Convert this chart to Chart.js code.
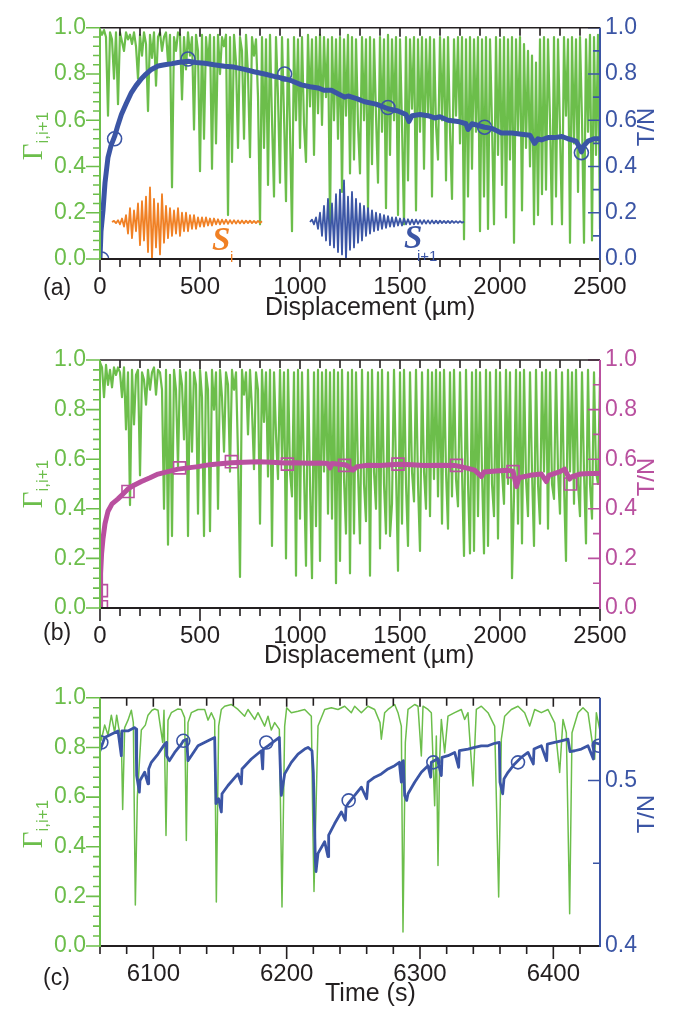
<!DOCTYPE html>
<html lang="en">
<head>
<meta charset="UTF-8">
<title>Γ(i,i+1) and T/N traces</title>
<script src="https://cdn.jsdelivr.net/npm/chart.js"></script>
<style>
  body { margin: 0; background: #fff; }
  #page { position: relative; width: 679px; height: 1010px; overflow: hidden; font-family: 'Liberation Sans', Arial, sans-serif; color: #231f20; }
  canvas { position: absolute; left: 0; }
  .lbl { position: absolute; line-height: 1; white-space: nowrap; }
  .rot { position: absolute; line-height: 1; white-space: nowrap; transform: translate(-50%, -50%) rotate(-90deg); }
  .gam { color: #6cbe4b; }
  .gam .g { font: 29px 'Liberation Serif', serif; }
  .gam sub { font: 17px 'Liberation Sans', sans-serif; vertical-align: -6px; }
</style>
</head>
<body>
<div id="page">
  <canvas id="chartA" width="679" height="330" style="top:0"></canvas>
  <canvas id="chartB" width="679" height="340" style="top:330px"></canvas>
  <canvas id="chartC" width="679" height="340" style="top:670px"></canvas>

  <div class="lbl" style="left:43px;top:276px;font-size:23px">(a)</div>
  <div class="lbl" style="left:265px;top:294px;font-size:25px">Displacement (µm)</div>
  <div class="rot gam" style="left:34px;top:136px"><span class="g">Γ</span><sub>i,i+1</sub></div>
  <div class="rot" style="left:646px;top:127px;font-size:24px;color:#3b55a5">T/N</div>
  <div class="lbl" style="left:212px;top:221px;font:italic bold 33px 'Liberation Serif',serif;color:#f08024">S</div>
  <div class="lbl" style="left:230px;top:249px;font-size:15px;color:#f08024">i</div>
  <div class="lbl" style="left:404px;top:219px;font:italic bold 33px 'Liberation Serif',serif;color:#3b55a5">S</div>
  <div class="lbl" style="left:417px;top:248px;font-size:15px;color:#3b55a5">i+1</div>

  <div class="lbl" style="left:43px;top:621px;font-size:23px">(b)</div>
  <div class="lbl" style="left:264px;top:642px;font-size:25px">Displacement (µm)</div>
  <div class="rot gam" style="left:34px;top:484px"><span class="g">Γ</span><sub>i,i+1</sub></div>
  <div class="rot" style="left:646px;top:477px;font-size:24px;color:#b9509f">T/N</div>

  <div class="lbl" style="left:43px;top:966px;font-size:23px">(c)</div>
  <div class="lbl" style="left:325px;top:980px;font-size:25px">Time (s)</div>
  <div class="rot gam" style="left:34px;top:824px"><span class="g">Γ</span><sub>i,i+1</sub></div>
  <div class="rot" style="left:646px;top:814px;font-size:24px;color:#3b55a5">T/N</div>
</div>

<script>
// ---------- panel (a) ----------
// Γ(i,i+1) sampled every 10 µm from 0 to 2500 µm
const dispStep = 10;
const gammaA = [
  0.99,0.97,0.99,0.96,0.62,0.98,0.95,0.78,0.98,0.67,
  0.98,0.94,0.90,0.98,0.95,0.97,0.93,0.98,0.92,0.78,
  0.97,0.88,0.98,0.93,0.64,0.97,0.87,0.98,0.75,0.96,
  0.98,0.90,0.96,0.98,0.85,0.97,0.31,0.96,0.90,0.98,
  0.97,0.69,0.96,0.82,0.98,0.88,0.96,0.56,0.97,0.90,
  0.38,0.97,0.52,0.96,0.84,0.97,0.39,0.96,0.50,0.97,
  0.80,0.96,0.92,0.97,0.19,0.96,0.42,0.97,0.85,0.48,
  0.96,0.90,0.52,0.97,0.80,0.44,0.96,0.88,0.95,0.70,
  0.15,0.96,0.48,0.95,0.32,0.97,0.60,0.27,0.96,0.70,
  0.33,0.96,0.62,0.25,0.95,0.55,0.12,0.96,0.60,0.95,
  0.48,0.96,0.58,0.42,0.97,0.66,0.95,0.45,0.96,0.63,
  0.97,0.58,0.96,0.70,0.95,0.15,0.96,0.60,0.95,0.52,
  0.96,0.29,0.95,0.62,0.97,0.37,0.96,0.43,0.95,0.58,
  0.37,0.96,0.60,0.95,0.21,0.96,0.41,0.95,0.62,0.33,
  0.96,0.55,0.95,0.22,0.97,0.45,0.95,0.60,0.96,0.19,
  0.95,0.58,0.15,0.96,0.34,0.95,0.65,0.96,0.21,0.95,
  0.55,0.96,0.39,0.95,0.62,0.96,0.27,0.95,0.58,0.43,
  0.96,0.60,0.95,0.34,0.96,0.55,0.26,0.95,0.62,0.96,
  0.50,0.96,0.085,0.95,0.27,0.96,0.39,0.95,0.55,0.96,
  0.12,0.95,0.27,0.96,0.13,0.95,0.58,0.15,0.96,0.45,
  0.95,0.32,0.96,0.18,0.95,0.43,0.96,0.07,0.95,0.55,
  0.96,0.21,0.93,0.48,0.90,0.40,0.88,0.15,0.85,0.19,
  0.95,0.28,0.96,0.30,0.95,0.60,0.15,0.96,0.27,0.95,
  0.55,0.15,0.96,0.62,0.95,0.07,0.96,0.50,0.95,0.29,
  0.96,0.60,0.07,0.95,0.55,0.97,0.08,0.96,0.45,0.97,0.13
];
const tnADisp = [0,5,15,25,40,55,73,90,107,130,157,180,207,230,257,290,323,360,390,440,
  480,523,570,623,670,723,770,823,870,923,960,1007,1050,1090,1120,1157,1190,1223,1240,1280,
  1323,1380,1440,1490,1530,1545,1560,1600,1640,1673,1700,1740,1790,1830,1840,1860,1923,1960,2007,2060,
  2107,2150,2173,2190,2207,2240,2273,2310,2340,2380,2400,2407,2420,2440,2470,2500];
const tnA = [0.0,0.12,0.21,0.33,0.44,0.49,0.53,0.58,0.625,0.67,0.72,0.75,0.78,0.80,0.82,0.835,0.84,0.845,0.85,0.855,
  0.85,0.847,0.84,0.834,0.83,0.82,0.81,0.80,0.79,0.78,0.77,0.753,0.745,0.74,0.73,0.73,0.715,0.70,0.705,0.695,
  0.68,0.67,0.65,0.64,0.625,0.595,0.62,0.625,0.62,0.61,0.615,0.60,0.595,0.585,0.56,0.585,0.57,0.565,0.545,0.545,
  0.54,0.535,0.50,0.52,0.515,0.525,0.525,0.53,0.52,0.51,0.48,0.463,0.49,0.51,0.52,0.52];
const tnAMarkDisp = [8,73,440,923,1440,1923,2407];
const tnAMark = [0.0,0.52,0.865,0.80,0.655,0.57,0.46];
// inset waveforms S_i (from 60 µm) and S_i+1 (from 1050 µm), 10 µm spacing
const siStart = 60;
const siA = [0.16,0.165,0.155,0.168,0.15,0.175,0.14,0.19,0.11,0.22,
  0.09,0.21,0.12,0.24,0.06,0.25,0.08,0.27,0.03,0.31,
  0.0,0.26,0.05,0.24,0.02,0.28,0.07,0.23,0.09,0.22,
  0.10,0.21,0.11,0.22,0.10,0.20,0.12,0.20,0.12,0.19,
  0.13,0.19,0.13,0.18,0.14,0.18,0.14,0.18,0.145,0.175,
  0.145,0.175,0.15,0.172,0.15,0.17,0.152,0.17,0.152,0.168,
  0.153,0.168,0.153,0.167,0.154,0.167,0.154,0.166,0.155,0.166,
  0.155,0.165,0.155,0.165,0.156,0.163];
const si1Start = 1050;
const si1A = [0.16,0.17,0.15,0.18,0.13,0.20,0.10,0.23,0.08,0.26,
  0.06,0.24,0.05,0.28,0.03,0.30,0.02,0.34,0.0,0.27,
  0.04,0.29,0.05,0.26,0.07,0.24,0.08,0.23,0.10,0.22,
  0.11,0.21,0.12,0.20,0.125,0.195,0.13,0.19,0.135,0.185,
  0.14,0.18,0.14,0.18,0.145,0.175,0.145,0.175,0.15,0.172,
  0.15,0.17,0.15,0.17,0.152,0.168,0.152,0.168,0.153,0.167,
  0.153,0.167,0.154,0.166,0.154,0.166,0.155,0.165,0.155,0.165,
  0.155,0.165,0.156,0.164,0.156,0.164,0.157,0.162];

// ---------- panel (b) ----------
const gammaB = [
  0.99,0.97,0.85,0.98,0.90,0.96,0.89,0.97,0.94,0.97,
  0.95,0.85,0.97,0.72,0.95,0.415,0.96,0.74,0.94,0.96,
  0.535,0.95,0.92,0.82,0.96,0.88,0.95,0.97,0.86,0.96,
  0.95,0.88,0.40,0.96,0.255,0.94,0.29,0.96,0.88,0.57,
  0.96,0.90,0.68,0.95,0.29,0.96,0.63,0.95,0.90,0.38,
  0.96,0.85,0.29,0.95,0.88,0.31,0.96,0.80,0.95,0.40,
  0.96,0.85,0.63,0.95,0.90,0.55,0.96,0.88,0.95,0.62,
  0.125,0.96,0.86,0.95,0.70,0.96,0.80,0.56,0.95,0.88,
  0.34,0.96,0.75,0.95,0.53,0.96,0.25,0.95,0.70,0.52,
  0.96,0.60,0.95,0.20,0.96,0.55,0.45,0.95,0.13,0.96,
  0.36,0.95,0.55,0.17,0.96,0.50,0.12,0.95,0.33,0.96,
  0.19,0.95,0.55,0.96,0.38,0.95,0.36,0.96,0.10,0.95,
  0.19,0.96,0.52,0.30,0.95,0.14,0.96,0.30,0.95,0.55,
  0.26,0.96,0.50,0.35,0.95,0.13,0.96,0.55,0.40,0.95,
  0.24,0.96,0.50,0.30,0.95,0.29,0.42,0.96,0.55,0.15,
  0.95,0.34,0.96,0.50,0.25,0.95,0.55,0.43,0.96,0.50,
  0.23,0.95,0.55,0.40,0.96,0.37,0.95,0.52,0.96,0.45,
  0.95,0.34,0.96,0.55,0.32,0.95,0.45,0.96,0.52,0.41,
  0.95,0.55,0.21,0.96,0.50,0.22,0.95,0.23,0.96,0.37,
  0.95,0.55,0.22,0.96,0.25,0.95,0.50,0.37,0.96,0.28,
  0.95,0.55,0.42,0.96,0.50,0.95,0.12,0.45,0.96,0.34,
  0.95,0.26,0.96,0.52,0.37,0.95,0.55,0.25,0.96,0.50,
  0.34,0.95,0.55,0.96,0.32,0.95,0.50,0.44,0.96,0.55,
  0.38,0.95,0.50,0.19,0.96,0.55,0.95,0.42,0.96,0.50,
  0.37,0.95,0.55,0.26,0.96,0.50,0.36,0.95,0.55,0.50,0.93
];
const tnBDisp = [0,3,8,15,25,40,60,90,115,140,170,207,250,290,340,390,440,490,550,600,
  657,720,790,860,923,980,1040,1100,1140,1150,1160,1223,1240,1265,1285,1340,1400,1490,1560,1620,
  1700,1773,1830,1873,1907,1920,1980,2040,2065,2082,2095,2150,2207,2232,2245,2300,2323,2348,2360,2400,
  2450,2500];
const tnB = [0.0,0.14,0.22,0.28,0.34,0.39,0.42,0.44,0.46,0.48,0.495,0.51,0.525,0.54,0.55,0.56,0.565,0.57,0.578,0.582,
  0.586,0.588,0.59,0.588,0.585,0.586,0.584,0.585,0.583,0.565,0.583,0.578,0.572,0.556,0.57,0.576,0.575,0.58,0.578,0.575,
  0.576,0.575,0.565,0.556,0.53,0.548,0.552,0.555,0.552,0.49,0.525,0.535,0.54,0.51,0.535,0.55,0.56,0.52,0.53,0.54,
  0.542,0.542];
const tnBMarkDisp = [7,7,140,398,657,937,1223,1490,1782,2065,2353];
const tnBMark = [0.07,0.005,0.47,0.565,0.59,0.58,0.575,0.58,0.575,0.55,0.50];

// ---------- panel (c) ----------
const timeC = [6058.5,6061,6063.5,6066,6068.5,6071,6072.5,6074,6076,6077,
  6078.5,6081,6083.5,6085,6086.5,6088,6091,6094,6096,6099,
  6101,6103.5,6107,6108,6109.5,6111,6113.5,6118.5,6121,6123.5,
  6124.75,6126,6128.5,6133.5,6138.5,6141,6143.5,6146,6147.25,6149,
  6151,6153.5,6158.5,6163.5,6168.5,6171,6176,6178.5,6183.5,6186,
  6188.5,6191,6194.5,6196.5,6198.5,6200,6203.5,6208.5,6213.5,6218.5,
  6219.75,6220.5,6221.5,6223.5,6228.5,6233.5,6238.5,6243.5,6248.5,6251,
  6256,6261,6266,6270,6271,6273.5,6276,6281,6283.5,6286,
  6287.25,6289,6291,6296,6298.5,6301,6302.25,6306,6308.5,6311,
  6312.25,6313.5,6314.75,6316,6318.5,6321,6326,6331,6333.5,6336,
  6339.75,6342.25,6346,6351,6356,6359,6361,6363.5,6368.5,6373.5,
  6378.5,6382.25,6386,6391,6396,6401,6404.75,6407.25,6409.75,6412.25,
  6414,6418.5,6422.25,6426,6431,6432.25,6434.75];
const gammaC = [0.91,0.83,0.89,0.85,0.93,0.86,0.93,0.88,0.84,0.55,
  0.88,0.91,0.95,0.90,0.165,0.60,0.87,0.89,0.93,0.95,
  0.955,0.95,0.82,0.95,0.445,0.91,0.94,0.955,0.953,0.92,
  0.425,0.90,0.94,0.953,0.953,0.91,0.94,0.91,0.177,0.886,
  0.953,0.966,0.973,0.953,0.926,0.953,0.913,0.94,0.886,0.926,
  0.87,0.90,0.873,0.157,0.886,0.960,0.94,0.946,0.953,0.926,
  0.445,0.22,0.445,0.886,0.953,0.960,0.953,0.966,0.94,0.966,
  0.94,0.966,0.953,0.90,0.833,0.94,0.953,0.973,0.94,0.886,
  0.056,0.82,0.953,0.973,0.966,0.766,0.966,0.953,0.94,0.565,
  0.846,0.324,0.753,0.913,0.779,0.926,0.94,0.953,0.913,0.94,
  0.645,0.953,0.966,0.94,0.886,0.197,0.833,0.926,0.953,0.966,
  0.94,0.886,0.953,0.94,0.953,0.899,0.699,0.913,0.859,0.130,
  0.859,0.94,0.960,0.94,0.753,0.94,0.873];
const tnTimeC = [6058.5,6060,6063.5,6068.5,6073.5,6076,6076.5,6081,6083.5,6086,
  6087,6087.5,6089.5,6090,6093.5,6096,6096.5,6098.5,6103.5,6108.5,
  6109.75,6110,6112,6116,6121,6122.5,6125,6126,6128.5,6133.5,
  6141,6146,6147,6149,6151,6151.5,6156,6163.5,6166,6166.5,
  6173.5,6181,6182,6182.5,6186,6191,6194.5,6195.5,6196,6198.5,
  6203.5,6208.5,6213.5,6216,6219,6220,6221.5,6222,6223.5,6228.5,
  6231,6231.5,6236,6241,6244,6244.5,6246,6251,6256,6260,
  6261,6266,6271,6276,6281,6284.5,6286,6286.5,6287.5,6288.5,
  6290,6291,6296,6301,6306,6308,6308.5,6313,6316,6316.5,
  6321,6326,6329,6329.5,6336,6341,6346,6351,6356,6359.5,
  6360,6362,6363,6366,6371,6376,6381,6385,6385.5,6391,
  6395,6395.5,6401,6406,6411,6412.5,6416,6421,6426,6430,
  6430.5,6435];
const tnC = [0.521,0.518,0.526,0.528,0.530,0.515,0.530,0.530,0.531,0.532,
  0.531,0.503,0.493,0.500,0.505,0.498,0.507,0.511,0.516,0.522,
  0.523,0.515,0.512,0.517,0.522,0.524,0.525,0.512,0.515,0.521,
  0.524,0.526,0.486,0.489,0.481,0.492,0.497,0.504,0.498,0.507,
  0.513,0.518,0.507,0.519,0.521,0.524,0.526,0.501,0.491,0.504,
  0.511,0.516,0.519,0.520,0.518,0.505,0.452,0.445,0.456,0.463,
  0.454,0.467,0.474,0.481,0.476,0.484,0.486,0.491,0.496,0.489,
  0.499,0.502,0.504,0.507,0.509,0.511,0.499,0.511,0.512,0.491,
  0.488,0.492,0.499,0.505,0.509,0.502,0.511,0.513,0.503,0.514,
  0.515,0.517,0.508,0.518,0.519,0.520,0.521,0.521,0.5225,0.523,
  0.499,0.492,0.501,0.505,0.510,0.514,0.517,0.510,0.519,0.521,
  0.512,0.522,0.523,0.524,0.525,0.5175,0.518,0.519,0.521,0.513,
  0.523,0.522];
const tnMarkTimeC = [6061,6122.5,6184.75,6246.5,6310,6373.5,6434];
const tnMarkC = [0.523,0.524,0.523,0.488,0.511,0.511,0.521];

// axis tick labels
const dispTicks = [0,500,1000,1500,2000,2500];
const timeTicks = [6100,6200,6300,6400];
const gammaTicks = [0,0.2,0.4,0.6,0.8,1.0];
const tnTicksAB = [0,0.2,0.4,0.6,0.8,1.0];
const tnTicksC = [0.4,0.5];

const green = '#6cbe4b', blue = '#3b55a5', magenta = '#b9509f', orange = '#f08024', ink = '#231f20';
const fam = "'Liberation Sans', Arial, sans-serif";

const pts = (xs, ys) => xs.map((x, i) => ({ x: x, y: ys[i] }));
const even = (x0, step, ys) => ys.map((y, i) => ({ x: x0 + i * step, y: y }));
function seq(a, b, step) {
  const out = [];
  for (let i = 0; a + i * step <= b + 1e-9; i++) out.push(+(a + i * step).toFixed(6));
  return out;
}
const isMult = (v, m) => Math.abs(v / m - Math.round(v / m)) < 1e-6;

// tick marks and frame lines, drawn on top of the data
const frameTicks = {
  id: 'frameTicks',
  afterDatasetsDraw(chart, args, o) {
    if (!o || !o.marks) return;
    const { ctx, chartArea: a } = chart;
    ctx.save();
    ctx.lineCap = 'butt';
    for (const m of o.marks) {
      const s = chart.scales[m.scale];
      ctx.strokeStyle = m.color;
      ctx.lineWidth = 1.6;
      ctx.beginPath();
      for (const v of m.values) {
        const len = isMult(v, m.major) ? m.long : m.short;
        const p = s.getPixelForValue(v);
        if (m.edge === 'bottom') { ctx.moveTo(p, a.bottom); ctx.lineTo(p, a.bottom + len); }
        if (m.edge === 'top') { ctx.moveTo(p, a.top); ctx.lineTo(p, a.top + len); }
        if (m.edge === 'left') { ctx.moveTo(a.left, p); ctx.lineTo(a.left - len, p); }
        if (m.edge === 'right') { ctx.moveTo(a.right, p); ctx.lineTo(a.right - len, p); }
      }
      ctx.stroke();
    }
    const line = (c, w, x1, y1, x2, y2) => {
      ctx.strokeStyle = c; ctx.lineWidth = w;
      ctx.beginPath(); ctx.moveTo(x1, y1); ctx.lineTo(x2, y2); ctx.stroke();
    };
    line(ink, 1.5, a.left, a.top, a.right, a.top);
    line(ink, 2, a.left - 1, a.bottom, a.right + 1, a.bottom);
    line(green, 2, a.left, a.top, a.left, a.bottom + 1);
    line(o.rightColor, 2, a.right, a.top, a.right, a.bottom + 1);
    ctx.restore();
  }
};
Chart.register(frameTicks);

function options(p) {
  const yFont = { family: fam, size: 23 };
  const xFont = { family: fam, size: 24 };
  return {
    responsive: false,
    animation: false,
    events: [],
    layout: { padding: { top: p.padTop, left: 0, right: 0, bottom: 0 } },
    elements: { point: { radius: 0 }, line: { tension: 0, borderJoinStyle: 'round' } },
    plugins: { legend: { display: false }, tooltip: { enabled: false }, frameTicks: p.frame },
    scales: {
      x: {
        type: 'linear', min: p.xMin, max: p.xMax,
        grid: { display: false, drawTicks: false }, border: { display: false },
        afterBuildTicks: s => { s.ticks = p.xTicks.map(v => ({ value: v })); },
        afterFit: s => { s.height = p.xHeight; },
        ticks: { padding: 14, color: ink, font: xFont, autoSkip: false, maxRotation: 0, callback: v => String(v) }
      },
      y: {
        position: 'left', min: 0, max: 1,
        grid: { display: false, drawTicks: false }, border: { display: false },
        afterBuildTicks: s => { s.ticks = gammaTicks.map(v => ({ value: v })); },
        afterFit: s => { s.width = 100; },
        ticks: { padding: 14, color: green, font: yFont, callback: v => v.toFixed(1) }
      },
      y1: {
        position: 'right', min: p.rMin, max: p.rMax,
        grid: { display: false, drawTicks: false }, border: { display: false },
        afterBuildTicks: s => { s.ticks = p.rTicks.map(v => ({ value: v })); },
        afterFit: s => { s.width = 79; },
        ticks: { padding: 5, color: p.rColor, font: yFont, callback: v => v.toFixed(1) }
      }
    }
  };
}

function dispFrame(rightColor) {
  return {
    rightColor: rightColor,
    marks: [
      { scale: 'x', edge: 'bottom', values: seq(0, 2500, 100), major: 500, long: 13, short: 8, color: ink },
      { scale: 'x', edge: 'top', values: seq(0, 2500, 100), major: 500, long: 9, short: 8, color: ink },
      { scale: 'y', edge: 'left', values: seq(0, 1, 0.04), major: 0.2, long: 14, short: 7, color: green },
      { scale: 'y1', edge: 'right', values: seq(0, 1, 0.1), major: 0.2, long: 12, short: 7, color: rightColor }
    ]
  };
}

const markerStyle = (c, style, r) => ({
  showLine: false, pointStyle: style, pointRadius: r, pointBorderColor: c,
  pointBackgroundColor: 'rgba(0,0,0,0)', pointBorderWidth: 1.6, clip: 0, order: 0
});

// (a)
new Chart(document.getElementById('chartA'), {
  type: 'line',
  data: {
    datasets: [
      Object.assign({ data: pts(tnAMarkDisp, tnAMark), yAxisID: 'y1' }, markerStyle(blue, 'circle', 7)),
      { data: pts(tnADisp, tnA), yAxisID: 'y1', borderColor: blue, borderWidth: 5, order: 0 },
      { data: even(siStart, dispStep, siA), yAxisID: 'y', borderColor: orange, borderWidth: 1.8, order: 1 },
      { data: even(si1Start, dispStep, si1A), yAxisID: 'y', borderColor: blue, borderWidth: 1.8, order: 1 },
      { data: even(0, dispStep, gammaA), yAxisID: 'y', borderColor: green, borderWidth: 2.2, order: 2 }
    ]
  },
  options: options({ padTop: 12, xHeight: 71, xMin: 0, xMax: 2500, xTicks: dispTicks,
    rMin: 0, rMax: 1, rTicks: tnTicksAB, rColor: blue, frame: dispFrame(blue) })
});

// (b)
new Chart(document.getElementById('chartB'), {
  type: 'line',
  data: {
    datasets: [
      Object.assign({ data: pts(tnBMarkDisp, tnBMark), yAxisID: 'y1' }, markerStyle(magenta, 'rect', 8.5)),
      { data: pts(tnBDisp, tnB), yAxisID: 'y1', borderColor: magenta, borderWidth: 5, order: 0 },
      { data: even(0, dispStep, gammaB), yAxisID: 'y', borderColor: green, borderWidth: 2.2, order: 2 }
    ]
  },
  options: options({ padTop: 30, xHeight: 62, xMin: 0, xMax: 2500, xTicks: dispTicks,
    rMin: 0, rMax: 1, rTicks: tnTicksAB, rColor: magenta, frame: dispFrame(magenta) })
});

// (c)
new Chart(document.getElementById('chartC'), {
  type: 'line',
  data: {
    datasets: [
      Object.assign({ data: pts(tnMarkTimeC, tnMarkC), yAxisID: 'y1' }, markerStyle(blue, 'circle', 6.5)),
      { data: pts(tnTimeC, tnC), yAxisID: 'y1', borderColor: blue, borderWidth: 2.8, order: 0 },
      { data: pts(timeC, gammaC), yAxisID: 'y', borderColor: green, borderWidth: 1.5, order: 2 }
    ]
  },
  options: options({ padTop: 27, xHeight: 64, xMin: 6060, xMax: 6435, xTicks: timeTicks,
    rMin: 0.4, rMax: 0.55, rTicks: tnTicksC, rColor: blue,
    frame: {
      rightColor: blue,
      marks: [
        { scale: 'x', edge: 'bottom', values: seq(6060, 6435, 20), major: 100, long: 13, short: 8, color: ink },
        { scale: 'x', edge: 'top', values: seq(6060, 6435, 20), major: 100, long: 9, short: 8, color: ink },
        { scale: 'y', edge: 'left', values: seq(0, 1, 0.04), major: 0.2, long: 14, short: 7, color: green },
        { scale: 'y1', edge: 'right', values: [0.45, 0.5], major: 0.1, long: 12, short: 7, color: blue }
      ]
    } })
});
</script>
</body>
</html>
